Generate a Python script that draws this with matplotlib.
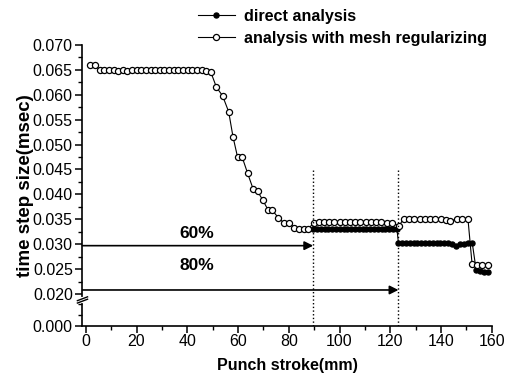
import matplotlib
matplotlib.use("Agg")
import matplotlib.pyplot as plt
import numpy as np
from matplotlib.ticker import FixedLocator

plt.rcParams["font.family"] = ["Liberation Sans", "DejaVu Sans"]

# analysis with mesh regularizing (open circles)
mesh_x = [1.8, 3.6, 5.5, 7.3, 9.1, 11.0, 12.8, 14.6, 16.4, 18.3, 20.1, 21.9, 23.7,
          25.6, 27.4, 29.2, 31.0, 32.9, 34.7, 36.5, 38.3, 40.2, 42.0, 43.8, 45.6,
          47.5, 49.3,
          51.5, 53.9, 56.3, 58.0, 59.8, 61.6, 63.8, 66.0, 67.7, 69.8, 71.9, 73.5,
          75.9, 78.0, 80.1, 82.0, 84.0, 85.9, 87.6,
          89.8, 91.8, 93.9, 95.9, 98.0, 100.0, 102.1, 104.1, 106.2, 108.2, 110.3,
          112.3, 114.4, 116.4, 118.5, 120.5, 123.5,
          125.2, 127.3, 129.4, 131.5, 133.6, 135.7, 137.8, 139.9, 142.0, 143.6,
          146.2, 148.4, 150.6,
          152.2, 154.2, 156.3, 158.4]
mesh_y = [0.0660, 0.0660, 0.0650, 0.0650, 0.0649, 0.0649, 0.0648, 0.0649, 0.0648,
          0.0649, 0.0649, 0.0649, 0.0649, 0.0649, 0.0649, 0.0649, 0.0649, 0.0649,
          0.0649, 0.0649, 0.0649, 0.0649, 0.0649, 0.0649, 0.0649, 0.0648, 0.0645,
          0.0615, 0.0598, 0.0566, 0.0516, 0.0475, 0.0475, 0.0442, 0.0410, 0.0406,
          0.0388, 0.0368, 0.0368, 0.0353, 0.0343, 0.0343, 0.0333, 0.0330, 0.0330,
          0.0330,
          0.0343, 0.0344, 0.0344, 0.0344, 0.0344, 0.0344, 0.0344, 0.0344, 0.0344,
          0.0344, 0.0344, 0.0344, 0.0344, 0.0344, 0.0343, 0.0343, 0.0337,
          0.0351, 0.0351, 0.0351, 0.0351, 0.0351, 0.0351, 0.0350, 0.0350, 0.0349,
          0.0347, 0.0350, 0.0350, 0.0350,
          0.0261, 0.0258, 0.0258, 0.0258]

# direct analysis (filled dots)
direct_x = [89.6, 91.1, 92.6, 94.1, 95.6, 97.1, 98.6, 100.1, 101.6, 103.1, 104.6,
            106.1, 107.6, 109.1, 110.6, 112.1, 113.6, 115.1, 116.6, 118.1, 119.6,
            121.1, 122.6,
            123.2, 124.7, 126.2, 127.7, 129.2, 130.7, 132.2, 133.7, 135.2, 136.7,
            138.2, 139.7, 141.2, 142.7, 144.2, 145.9, 147.4, 148.9, 150.6, 152.3,
            153.8, 155.4, 157.0, 158.5]
direct_y = [0.0331, 0.0331, 0.0331, 0.0331, 0.0331, 0.0331, 0.0331, 0.0331, 0.0331,
            0.0331, 0.0331, 0.0331, 0.0331, 0.0331, 0.0331, 0.0331, 0.0331, 0.0331,
            0.0331, 0.0331, 0.0331, 0.0331, 0.0331,
            0.0302, 0.0302, 0.0302, 0.0302, 0.0302, 0.0302, 0.0302, 0.0302, 0.0302,
            0.0302, 0.0302, 0.0302, 0.0302, 0.0302, 0.0301, 0.0297, 0.0301, 0.0301,
            0.0302, 0.0302,
            0.0249, 0.0246, 0.0245, 0.0245]

limit_x = [89.6, 123.2]
limit_labels = ["60%", "80%"]
arrow_y = [0.0297, 0.0208]
label_y = [0.0321, 0.0257]

# broken y axis: 0.000-0.020 squeezed
BRK, K = 0.020, 0.32


def fwd(y):
    y = np.asarray(y, dtype=float)
    return np.where(y >= BRK, y, BRK - (BRK - y) * K)


def inv(u):
    u = np.asarray(u, dtype=float)
    return np.where(u >= BRK, u, BRK - (BRK - u) / K)


fig = plt.figure(figsize=(5.06, 3.78), dpi=100)
ax = fig.add_axes([0.163, 0.138, 0.809, 0.743])
ax.set_yscale("function", functions=(fwd, inv))

ax.plot(direct_x, direct_y, "-", color="black", lw=0.8, marker="o", ms=3.6,
        mfc="black", mec="black", label="direct analysis")
ax.plot(mesh_x, mesh_y, "-", color="black", lw=0.8, marker="o", ms=4.4,
        mfc="white", mec="black", mew=0.9, label="analysis with mesh regularizing")

for x in limit_x:
    ax.plot([x, x], [0.0, 0.045], ls=":", color="black", lw=1.0)

for x, ya, yl, lab in zip(limit_x, arrow_y, label_y, limit_labels):
    ax.annotate("", xy=(x, ya), xytext=(-1.3, ya),
                arrowprops=dict(arrowstyle="-|>", color="black", lw=1.2,
                                mutation_scale=13, shrinkA=0, shrinkB=0))
    ax.text(43.6, yl, lab, ha="center", va="center", fontsize=12.5, fontweight="bold")

ax.set_xlim(-1.3, 160)
ax.set_ylim(0.0, 0.070)

yt = [0.000, 0.020, 0.025, 0.030, 0.035, 0.040, 0.045, 0.050, 0.055, 0.060, 0.065, 0.070]
ax.yaxis.set_major_locator(FixedLocator(yt))
ax.set_yticklabels([f"{v:.3f}" for v in yt])
ax.yaxis.set_minor_locator(FixedLocator([0.0225, 0.0275, 0.0325, 0.0375, 0.0425,
                                         0.0475, 0.0525, 0.0575, 0.0625, 0.0675,
                                         0.007, 0.014]))
ax.xaxis.set_major_locator(FixedLocator(range(0, 161, 20)))
ax.xaxis.set_minor_locator(FixedLocator(range(10, 160, 20)))

for s in ["top", "right"]:
    ax.spines[s].set_visible(False)
ax.spines["left"].set_linewidth(1.2)
ax.spines["bottom"].set_linewidth(1.2)
ax.tick_params(which="major", direction="out", length=5, width=1.1,
               labelsize=11.5, pad=2)
ax.tick_params(axis="x", which="major", pad=1)
ax.tick_params(which="minor", direction="out", length=3, width=1.0)

# break marks on the y axis
b1, b2 = 0.0170, 0.0155
ax.plot([-1.3, -1.3], [b2, b1], color="white", lw=3, clip_on=False, zorder=5)
for yb in (b1, b2):
    ax.plot([-3.3, 0.7], [yb - 0.0012, yb + 0.0012], color="black", lw=1.0,
            clip_on=False, zorder=6)

ax.set_xlabel("Punch stroke(mm)", fontsize=11.5, fontweight="bold", labelpad=6)
ax.set_ylabel("time step size(msec)", fontsize=13.5, fontweight="bold", labelpad=-1)

fig.legend(loc="upper left", bbox_to_anchor=(0.362, 1.015), frameon=False,
           prop=dict(size=11.6, weight="bold"), handlelength=2.3, handletextpad=0.6,
           labelspacing=0.45)

fig.savefig("out.png", dpi=100)
